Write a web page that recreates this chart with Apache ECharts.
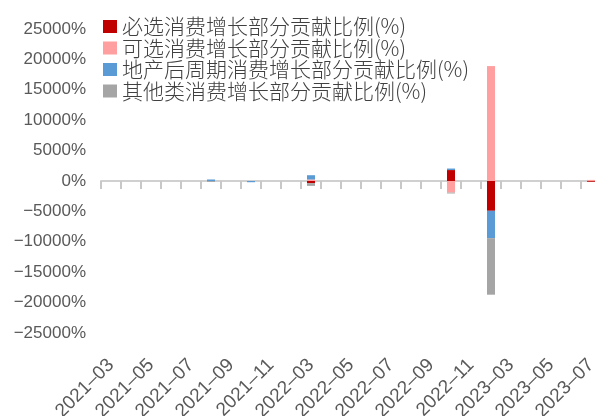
<!DOCTYPE html>
<html>
<head>
<meta charset="utf-8">
<script src="https://cdn.jsdelivr.net/npm/echarts@6/dist/echarts.min.js"></script>
<style>html,body{margin:0;padding:0;background:#fff}#c{width:595px;height:416px}</style>
</head>
<body>
<div id="c"></div>
<script>
var categories = ['2021-03','2021-04','2021-05','2021-06','2021-07','2021-08','2021-09','2021-10','2021-11','2021-12',
  '2022-03','2022-04','2022-05','2022-06','2022-07','2022-08','2022-09','2022-10','2022-11','2022-12',
  '2023-03','2023-04','2023-05','2023-06','2023-07'];
var seriesNames = ['必选消费增长部分贡献比例(%)','可选消费增长部分贡献比例(%)','地产后周期消费增长部分贡献比例(%)','其他类消费增长部分贡献比例(%)'];
var essential =  [0,0,0,0,0,0,0,0,0,0, -350,0,0,0,0,0,0,1800,0,-4900, 0,0,0,0,-120];
var optional =   [0,0,0,0,0,0,0,0,0,0, 250,0,0,0,0,0,0,-1900,0,18900, 0,0,0,0,180];
var property =   [0,0,0,0,0,250,0,-200,0,0, 700,0,0,0,0,0,0,250,0,-4500, 0,0,0,0,0];
var others =     [0,0,0,0,0,-150,0,0,0,0, -450,0,0,0,0,0,0,-150,0,-9300, 0,0,0,0,0];
var yTicks = {min:-25000, max:25000, interval:5000};
var colors = ['#C00000','#FF9F9F','#5B9BD5','#A5A5A5'];

var chart = echarts.init(document.getElementById('c'));
var dataList = [essential, optional, property, others];
var series = dataList.map(function(d, i){
  return {name: seriesNames[i], type:'bar', stack:'total', data:d, barWidth:8,
    itemStyle:{color:colors[i]}, xAxisIndex:0};
});
chart.setOption({
  animation:false,
  color: colors,
  grid:{left:101, top:29, width:500, height:304, containLabel:false, outerBoundsMode:'none'},
  legend:{orient:'vertical', left:98, top:11, itemWidth:14, itemHeight:13, itemGap:0.5,
    icon:'rect', data:seriesNames,
    textStyle:{fontFamily:'Noto Sans CJK SC', fontSize:21, fontWeight:300, color:'#404040'}},
  xAxis:[{
    type:'category', data:categories, position:'bottom',
    axisLine:{onZero:true, lineStyle:{color:'#D0D0D0', width:2}},
    axisTick:{show:true, interval:0, length:8, lineStyle:{color:'#C8C8C8', width:2}},
    axisLabel:{show:false}
  },{
    type:'category', data:categories, position:'bottom', gridIndex:0,
    axisLine:{show:false, onZero:false}, axisTick:{show:false},
    axisLabel:{interval:1, rotate:45, margin:29, fontFamily:'Liberation Sans', fontSize:19, color:'#595959',
      formatter:function(v){return v.replace('-', '\u2013');}}
  }],
  yAxis:{type:'value', min:yTicks.min, max:yTicks.max, interval:yTicks.interval,
    axisLine:{show:false}, axisTick:{show:false}, splitLine:{show:false},
    axisLabel:{margin:15, fontFamily:'Liberation Sans', fontSize:17, color:'#595959',
      formatter:function(v){return String(v).replace('-', '\u2212') + '%';}}},
  series: series
});
</script>
</body>
</html>
